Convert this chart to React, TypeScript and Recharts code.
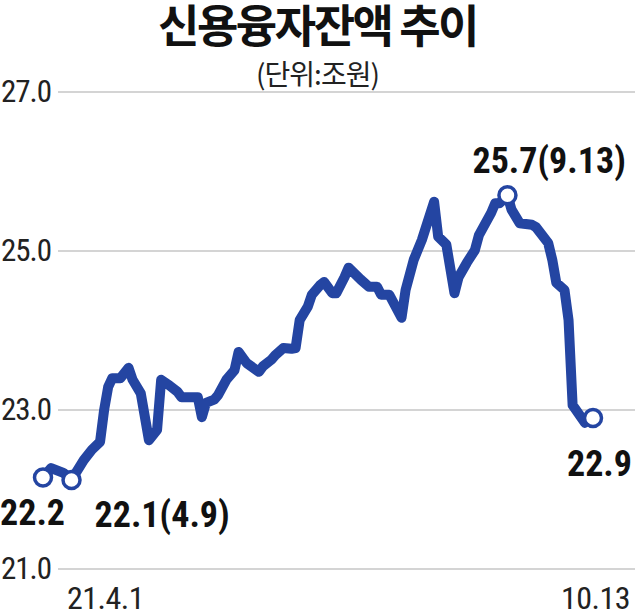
import { LineChart, Line, XAxis, YAxis, CartesianGrid } from 'recharts';

// trading-day index since 21.4.1
const days = [
  0, 2, 5, 7, 10, 12, 14, 15, 16, 17, 19, 21, 22, 24, 26, 28, 29, 31, 33, 34,
  36, 38, 39, 40, 42, 43, 45, 47, 48, 50, 53, 54, 56, 57, 59, 61, 62, 63, 65, 66,
  68, 69, 71, 72, 74, 75, 78, 80, 82, 83, 85, 88, 89, 91, 93, 96, 97, 99, 101, 102,
  104, 106, 107, 110, 111, 112, 114, 115, 117, 120, 121, 124, 125, 126, 128, 129, 130, 133, 135,
];
// 신용융자잔액 (조원)
const balances = [
  22.15, 22.27, 22.21, 22.12, 22.37, 22.5, 22.6, 23.0, 23.29, 23.4, 23.4, 23.53, 23.38, 23.21, 22.62, 22.75, 23.38, 23.31, 23.23, 23.16,
  23.16, 23.16, 22.91, 23.09, 23.13, 23.19, 23.38, 23.5, 23.73, 23.59, 23.48, 23.55, 23.63, 23.69, 23.78, 23.77, 23.78, 24.13, 24.3, 24.45,
  24.57, 24.61, 24.47, 24.47, 24.67, 24.79, 24.64, 24.55, 24.55, 24.45, 24.45, 24.16, 24.51, 24.89, 25.14, 25.62, 25.18, 25.08, 24.47, 24.67,
  24.85, 25.01, 25.2, 25.48, 25.6, 25.6, 25.7, 25.52, 25.35, 25.33, 25.3, 25.1, 24.89, 24.6, 24.51, 24.13, 23.06, 22.84, 22.9,
];
const yTicks = [21, 23, 25, 27];
const xTicks = [0, 135];
const xTickLabels = ['21.4.1', '10.13'];
const markedDays = [0, 7, 114, 135];
const markLabels = ['22.2', '22.1(4.9)', '25.7(9.13)', '22.9'];

const data = days.map((d, i) => ({ day: d, value: balances[i] }));

const BLUE = '#2445a2';
const NARROW = "'Liberation Sans Narrow', 'Roboto Condensed', Roboto, sans-serif";

const labelPos: Record<number, { dx: number; dy: number; anchor: 'start' | 'end' }> = {
  0: { dx: -43, dy: 47, anchor: 'start' },
  7: { dx: 23, dy: 47, anchor: 'start' },
  114: { dx: -35, dy: -22, anchor: 'start' },
  135: { dx: 39, dy: 58, anchor: 'end' },
};

function MarkDot(props: any) {
  const { cx, cy, payload } = props;
  const idx = markedDays.indexOf(payload.day);
  if (idx < 0) return <g key={`d-${payload.day}`} />;
  const pos = labelPos[payload.day];
  return (
    <g key={`d-${payload.day}`}>
      <circle cx={cx} cy={cy} r={8.5} fill="#fff" stroke={BLUE} strokeWidth={3.5} />
      <text x={cx + pos.dx} y={cy + pos.dy} textAnchor={pos.anchor} fontFamily={NARROW}
        fontWeight={700} fontSize={36} fill="#111">
        {markLabels[idx]}
      </text>
    </g>
  );
}

function YTick(props: any) {
  const { y, payload } = props;
  return (
    <text x={1} y={y} dy={10} textAnchor="start" fontFamily={NARROW} fontSize={31}
      letterSpacing={-1} fill="#222">
      {payload.value.toFixed(1)}
    </text>
  );
}

function XTick(props: any) {
  const { x, y, payload, index } = props;
  const first = index === 0;
  return (
    <text x={first ? x + 24 : x + 37} y={y} dy={32} textAnchor={first ? 'start' : 'end'}
      fontFamily={NARROW} fontSize={32} letterSpacing={-0.5} fill="#222">
      {xTickLabels[xTicks.indexOf(payload.value)]}
    </text>
  );
}

function GridLine(props: any) {
  const { x1, x2, y1, y2, index } = props;
  return <line key={`g-${index}`} x1={x1 + 15} x2={x2 + 42} y1={y1} y2={y2} stroke="#d4d4d4" strokeWidth={2} />;
}

export default function App() {
  return (
    <div style={{ position: 'relative', width: 635, height: 616, background: '#fff', overflow: 'hidden' }}>
      <style>{'body{margin:0}'}</style>
      <div style={{ position: 'absolute', top: 0, left: 0, width: 635, textAlign: 'center',
        fontFamily: "'Noto Sans CJK KR', sans-serif", fontWeight: 700, fontSize: 45,
        letterSpacing: -2.5, lineHeight: '48px', color: '#111' }}>
        신용융자잔액 추이
      </div>
      <div style={{ position: 'absolute', top: 55, left: 0, width: 635, textAlign: 'center',
        fontFamily: "'Noto Sans CJK KR', sans-serif", fontSize: 28, letterSpacing: -1,
        lineHeight: '36px', color: '#222' }}>
        (단위:조원)
      </div>
      <LineChart width={635} height={616} data={data}
        margin={{ top: 92, right: 42, bottom: 0, left: 0 }}>
        <CartesianGrid vertical={false} horizontal={GridLine} />
        <XAxis dataKey="day" type="number" domain={[0, 135]} ticks={xTicks}
          axisLine={false} tickLine={false} height={47} tick={XTick} interval={0} />
        <YAxis type="number" domain={[21, 27]} ticks={yTicks} width={43}
          axisLine={false} tickLine={false} tick={YTick} interval={0} />
        <Line type="linear" dataKey="value" stroke={BLUE} strokeWidth={10}
          strokeLinejoin="round" strokeLinecap="round" dot={MarkDot} activeDot={false}
          isAnimationActive={false} />
      </LineChart>
    </div>
  );
}
